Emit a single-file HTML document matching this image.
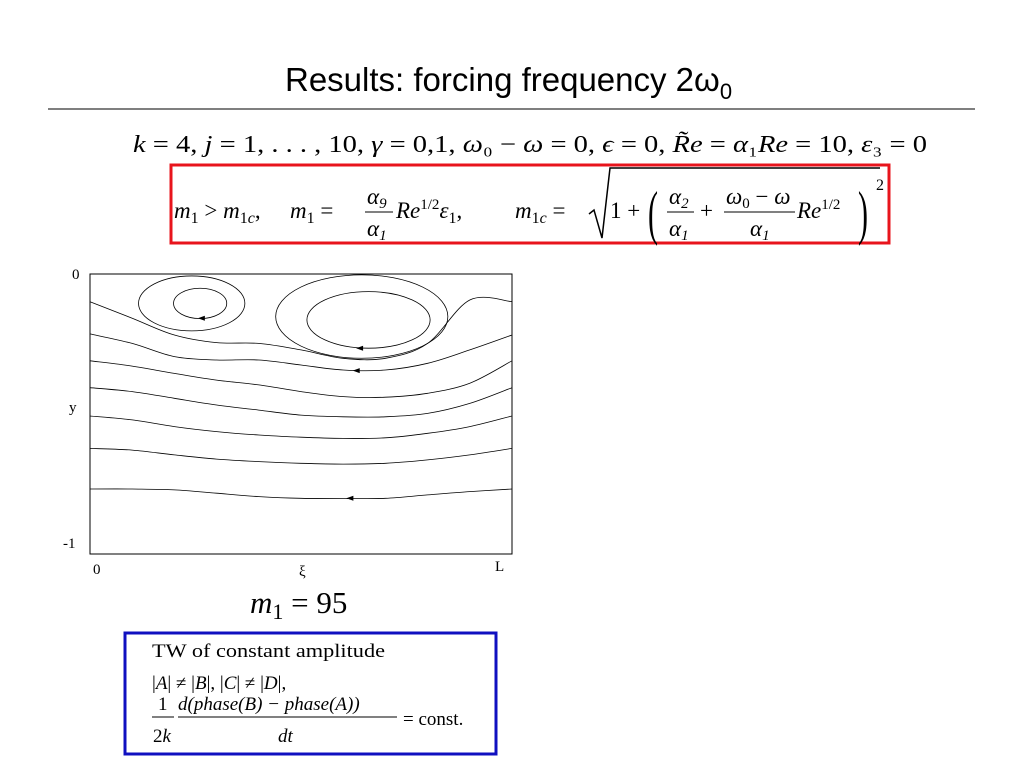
<!DOCTYPE html>
<html><head><meta charset="utf-8"><style>
html,body{margin:0;padding:0;background:#fff;}
svg{display:block;}
</style></head><body>
<svg id="page" width="1024" height="768" viewBox="0 0 1024 768" xmlns="http://www.w3.org/2000/svg">
<text x="285" y="91" font-family="Liberation Sans, sans-serif" font-size="33" fill="#000">Results: forcing frequency 2ω<tspan font-size="22" dy="8">0</tspan></text>
<line x1="48" y1="109" x2="975" y2="109" stroke="#555" stroke-width="1.5"/>

<text font-family="Liberation Serif, serif" x="133" y="152" font-size="24" textLength="794" lengthAdjust="spacingAndGlyphs"><tspan font-style="italic">k</tspan> = 4, <tspan font-style="italic">j</tspan> = 1, . . . , 10, <tspan font-style="italic">γ</tspan> = 0,1, <tspan font-style="italic">ω</tspan>₀ − <tspan font-style="italic">ω</tspan> = 0, <tspan font-style="italic">ϵ</tspan> = 0, <tspan font-style="italic">R̃e</tspan> = <tspan font-style="italic">α</tspan>₁<tspan font-style="italic">Re</tspan> = 10, <tspan font-style="italic">ε</tspan>₃ = 0</text>

<g font-family="Liberation Serif, serif" font-size="23" font-weight="normal">
<rect x="171" y="165" width="718" height="78" fill="none" stroke="#e8141c" stroke-width="3"/>
<text x="174" y="218"><tspan font-style="italic">m</tspan><tspan font-size="16" dy="5">1</tspan><tspan dy="-5"> &gt; </tspan><tspan font-style="italic">m</tspan><tspan font-size="16" dy="5">1</tspan><tspan font-size="16" font-style="italic">c</tspan><tspan dy="-5">,</tspan></text>
<text x="290" y="218"><tspan font-style="italic">m</tspan><tspan font-size="16" dy="5">1</tspan><tspan dy="-5"> =</tspan></text>
<text x="367" y="204" font-style="italic">α<tspan font-size="15" dy="4">9</tspan></text>
<line x1="365" y1="212" x2="393" y2="212" stroke="#000" stroke-width="1"/>
<text x="367" y="236" font-style="italic">α<tspan font-size="15" dy="4">1</tspan></text>
<text x="396" y="218"><tspan font-style="italic">Re</tspan><tspan font-size="15" dy="-9">1/2</tspan><tspan dy="9" font-style="italic">ε</tspan><tspan font-size="16" dy="5">1</tspan><tspan dy="-5">,</tspan></text>
<text x="515" y="218"><tspan font-style="italic">m</tspan><tspan font-size="16" dy="5">1</tspan><tspan font-size="16" font-style="italic">c</tspan><tspan dy="-5"> =</tspan></text>
<path d="M589 214 L594 210 L602 238 L610 168 L880 168" fill="none" stroke="#000" stroke-width="1.5"/>
<text x="610" y="218">1 +</text>
<text x="648" y="0" font-size="30" transform="translate(0,233) scale(1,2)" y="0">(</text>
<text x="669" y="204" font-style="italic">α<tspan font-size="15" dy="4">2</tspan></text>
<line x1="667" y1="212" x2="694" y2="212" stroke="#000" stroke-width="1"/>
<text x="669" y="236" font-style="italic">α<tspan font-size="15" dy="4">1</tspan></text>
<text x="700" y="218">+</text>
<text x="726" y="204"><tspan font-style="italic">ω</tspan><tspan font-size="15" dy="4">0</tspan><tspan dy="-4"> − </tspan><tspan font-style="italic">ω</tspan></text>
<line x1="724" y1="212" x2="795" y2="212" stroke="#000" stroke-width="1"/>
<text x="750" y="236" font-style="italic">α<tspan font-size="15" dy="4">1</tspan></text>
<text x="797" y="218"><tspan font-style="italic">Re</tspan><tspan font-size="15" dy="-9">1/2</tspan></text>
<text x="858" y="0" font-size="30" transform="translate(0,233) scale(1,2)">)</text>
<text x="876" y="190" font-size="16">2</text>
</g>

<g id="plot">
<rect x="90" y="274" width="422" height="280" fill="none" stroke="#000" stroke-width="1"/>
<g font-family="Liberation Serif, serif" font-size="15">
<text x="72" y="279">0</text>
<text x="69" y="412">y</text>
<text x="63" y="548">-1</text>
<text x="93" y="574">0</text>
<text x="299" y="576">ξ</text>
<text x="495" y="571">L</text>
</g>
<g id="lines"></g>
</g>

<text font-family="Liberation Serif, serif" x="250" y="613" font-size="31"><tspan font-style="italic">m</tspan><tspan font-size="22" dy="6">1</tspan><tspan dy="-6"> = 95</tspan></text>

<g font-family="Liberation Serif, serif" font-size="19">
<rect x="125" y="633" width="371" height="121" fill="none" stroke="#1010c0" stroke-width="3"/>
<text x="152" y="657" textLength="233" lengthAdjust="spacingAndGlyphs">TW of constant amplitude</text>
<text x="152" y="689">|<tspan font-style="italic">A</tspan>| ≠ |<tspan font-style="italic">B</tspan>|, |<tspan font-style="italic">C</tspan>| ≠ |<tspan font-style="italic">D</tspan>|,</text>
<text x="158" y="710">1</text>
<line x1="152" y1="717" x2="174" y2="717" stroke="#000" stroke-width="1"/>
<text x="153" y="742">2<tspan font-style="italic">k</tspan></text>
<text x="178" y="710" font-style="italic">d(phase(B) − phase(A))</text>
<line x1="178" y1="717" x2="397" y2="717" stroke="#000" stroke-width="1"/>
<text x="278" y="742" font-style="italic">dt</text>
<text x="403" y="725">= const.</text>
</g>
</svg>
<script>
// streamline data: y values (domain [-1,0]) sampled at xi = 0,0.1,...,1 (xi domain [0,1])
const xiSamples = [0,0.1,0.2,0.3,0.4,0.5,0.6,0.7,0.8,0.9,1.0];
const lineA = [-0.099,-0.158,-0.218,-0.245,-0.248,-0.271,-0.301,-0.301,-0.248,-0.093,-0.099];
const lineB = [-0.214,-0.248,-0.295,-0.307,-0.307,-0.325,-0.343,-0.343,-0.319,-0.271,-0.218];
const lineC = [-0.310,-0.329,-0.355,-0.379,-0.396,-0.420,-0.438,-0.440,-0.426,-0.390,-0.310];
const lineD = [-0.406,-0.420,-0.444,-0.468,-0.486,-0.504,-0.510,-0.510,-0.498,-0.462,-0.406];
const lineE = [-0.507,-0.521,-0.545,-0.563,-0.575,-0.583,-0.587,-0.585,-0.569,-0.545,-0.507];
const lineF = [-0.623,-0.629,-0.646,-0.661,-0.670,-0.676,-0.679,-0.676,-0.664,-0.646,-0.623];
const lineG = [-0.768,-0.768,-0.771,-0.783,-0.795,-0.801,-0.802,-0.801,-0.789,-0.777,-0.768];
// closed vortex loops: center xi, center y, radius xi, radius y
const vortexCx = [0.261, 0.241, 0.660, 0.644];
const vortexCy = [-0.105, -0.105, -0.164, -0.152];
const vortexRx = [0.063, 0.126, 0.146, 0.204];
const vortexRy = [0.054, 0.098, 0.101, 0.149];
// direction arrows (xi, y)
const arrowXi = [0.265, 0.640, 0.632, 0.617];
const arrowY = [-0.158, -0.265, -0.345, -0.801];

const X0=90, X1=512, Y0=274, Y1=554;
function sx(xi){return X0+xi*(X1-X0);}
function sy(y){return Y0+(-y)*(Y1-Y0);}
const NS="http://www.w3.org/2000/svg";
const g=document.getElementById('lines');
function catmull(pts){
  let d="M"+pts[0][0].toFixed(1)+" "+pts[0][1].toFixed(1);
  for(let i=0;i<pts.length-1;i++){
    const p0=pts[Math.max(0,i-1)],p1=pts[i],p2=pts[i+1],p3=pts[Math.min(pts.length-1,i+2)];
    const c1x=p1[0]+(p2[0]-p0[0])/6,c1y=p1[1]+(p2[1]-p0[1])/6;
    const c2x=p2[0]-(p3[0]-p1[0])/6,c2y=p2[1]-(p3[1]-p1[1])/6;
    d+=" C"+c1x.toFixed(1)+" "+c1y.toFixed(1)+" "+c2x.toFixed(1)+" "+c2y.toFixed(1)+" "+p2[0].toFixed(1)+" "+p2[1].toFixed(1);
  }
  return d;
}
const allLines=[lineA,lineB,lineC,lineD,lineE,lineF,lineG];
allLines.forEach((ys,k)=>{
  const pts=ys.map((y,i)=>[sx(xiSamples[i]),sy(y)]);
  const p=document.createElementNS(NS,'path');
  p.setAttribute('d',catmull(pts));
  p.setAttribute('fill','none');p.setAttribute('stroke','#000');p.setAttribute('stroke-width','0.8');
  
  
  g.appendChild(p);
});
vortexCx.forEach((cx,k)=>{
  const e=document.createElementNS(NS,'ellipse');
  e.setAttribute('cx',sx(cx));e.setAttribute('cy',sy(vortexCy[k]));
  e.setAttribute('rx',vortexRx[k]*(X1-X0));e.setAttribute('ry',vortexRy[k]*(Y1-Y0));
  e.setAttribute('fill','none');e.setAttribute('stroke','#000');e.setAttribute('stroke-width','0.8');
  
  
  g.appendChild(e);
});
arrowXi.forEach((xi,k)=>{
  const x=sx(xi),y=sy(arrowY[k]);
  const t=document.createElementNS(NS,'polygon');
  t.setAttribute('points',(x-4)+","+y+" "+(x+3)+","+(y-2.5)+" "+(x+3)+","+(y+2.5));
  t.setAttribute('fill','#000');
  
  
  g.appendChild(t);
});
</script>
</body></html>
